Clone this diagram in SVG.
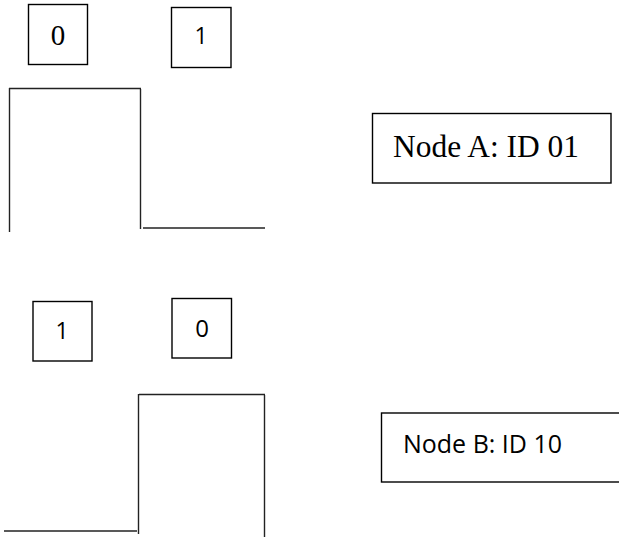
<svg xmlns="http://www.w3.org/2000/svg" width="619" height="537" viewBox="0 0 619 537">
  <style>
    .box { fill: #fff; stroke: #000; stroke-width: 1.4; }
    .sig { fill: none; stroke: #222; stroke-width: 1.4; stroke-linecap: butt; }
    .serif { font-family: "Liberation Serif", "Times New Roman", serif; fill: #000; }
    .sans { font-family: "Open Sans", "Liberation Sans", sans-serif; fill: #000; }
  </style>
  <rect width="619" height="537" fill="#fff"/>

  <!-- bit cells, first pattern -->
  <g id="bitA0">
    <rect class="box" x="28.5" y="4.5" width="59" height="60"/>
    <text class="serif" x="58" y="45" font-size="29" text-anchor="middle">0</text>
  </g>
  <g id="bitA1">
    <rect class="box" x="171.5" y="7.5" width="59.5" height="60"/>
    <text class="sans" x="201" y="44" font-size="23" text-anchor="middle">1</text>
  </g>

  <!-- label boxes -->
  <g id="nodeA">
    <rect class="box" x="372.5" y="113.5" width="238.5" height="69.5"/>
    <text class="serif" x="393" y="157" font-size="30.5" textLength="186" lengthAdjust="spacingAndGlyphs">Node A: ID 01</text>
  </g>

  <!-- bit cells, second pattern -->
  <g id="bitB1">
    <rect class="box" x="33" y="301.5" width="59" height="59.5"/>
    <text class="sans" x="62" y="339" font-size="23" text-anchor="middle">1</text>
  </g>
  <g id="bitB0">
    <rect class="box" x="172" y="298.5" width="59.5" height="59.5"/>
    <text class="sans" x="202" y="337" font-size="24" text-anchor="middle">0</text>
  </g>

  <g id="nodeB">
    <rect class="box" x="381.5" y="413" width="245" height="69"/>
    <text class="sans" x="403" y="453" font-size="26" textLength="159" lengthAdjust="spacingAndGlyphs">Node B: ID 10</text>
  </g>

  <!-- signal waveforms -->
  <g id="connectors">
    <!-- pattern 01: high then low -->
    <line class="sig" x1="9.5" y1="232" x2="9.5" y2="88"/>
    <line class="sig" x1="9" y1="88.5" x2="141" y2="88.5"/>
    <line class="sig" x1="140.5" y1="89" x2="140.5" y2="229"/>
    <line class="sig" x1="143" y1="228" x2="265" y2="228"/>
    <!-- pattern 10: low then high -->
    <line class="sig" x1="4" y1="531" x2="137" y2="531"/>
    <line class="sig" x1="138.5" y1="394" x2="138.5" y2="534"/>
    <line class="sig" x1="139" y1="394.5" x2="265" y2="394.5"/>
    <line class="sig" x1="264.5" y1="395" x2="264.5" y2="537"/>
  </g>
</svg>
